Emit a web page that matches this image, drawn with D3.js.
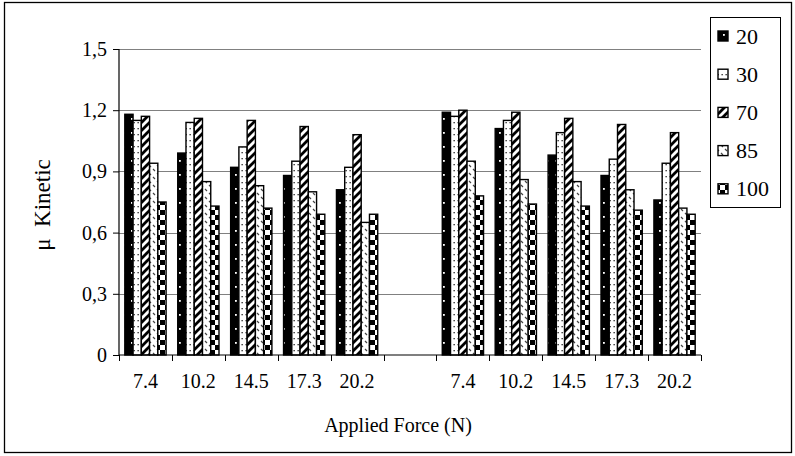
<!DOCTYPE html>
<html><head><meta charset="utf-8">
<script src="https://cdn.jsdelivr.net/npm/d3@7"></script>
<style>body{margin:0;background:#fff}svg{display:block}</style>
</head><body>
<script>
const categories = ["7.4","10.2","14.5","17.3","20.2","","7.4","10.2","14.5","17.3","20.2"];
const seriesNames = ["20","30","70","85","100"];
const s20  = [1.18,0.99,0.92,0.88,0.81,null,1.19,1.11,0.98,0.88,0.76];
const s30  = [1.15,1.14,1.02,0.95,0.92,null,1.17,1.15,1.09,0.96,0.94];
const s70  = [1.17,1.16,1.15,1.12,1.08,null,1.20,1.19,1.16,1.13,1.09];
const s85  = [0.94,0.85,0.83,0.80,0.65,null,0.95,0.86,0.85,0.81,0.72];
const s100 = [0.75,0.73,0.72,0.69,0.69,null,0.78,0.74,0.73,0.71,0.69];
const yTicks = [0,0.3,0.6,0.9,1.2,1.5];
const series = [s20,s30,s70,s85,s100];

const W=795,H=456;
const svg=d3.select("body").append("svg").attr("width",W).attr("height",H);
const defs=svg.append("defs");
function pat(id,w,h,draw){const p=defs.append("pattern").attr("id",id).attr("patternUnits","userSpaceOnUse").attr("width",w).attr("height",h);draw(p);}
pat("p20",8,14,p=>{p.append("rect").attr("width",8).attr("height",14).attr("fill","#000");p.append("rect").attr("x",3).attr("y",6).attr("width",1.8).attr("height",1.8).attr("fill","#fff");});
pat("p30",4,6,p=>{p.append("rect").attr("width",4).attr("height",6).attr("fill","#fff");p.append("rect").attr("x",1.5).attr("y",2).attr("width",1.3).attr("height",1.3).attr("fill","#222");});
pat("p70",8,8,p=>{p.append("rect").attr("width",8).attr("height",8).attr("fill","#fff");p.append("path").attr("d","M-2,10 L10,-2 M-2,2 L2,-2 M6,10 L10,6").attr("stroke","#000").attr("stroke-width",2.8);});
pat("p85",8,8,p=>{p.append("rect").attr("width",8).attr("height",8).attr("fill","#fff");p.append("path").attr("d","M1,1 L3,3 M5,5 L7,7").attr("stroke","#444").attr("stroke-width",1.2);});
pat("p100",10,10,p=>{p.append("rect").attr("width",10).attr("height",10).attr("fill","#fff");p.append("rect").attr("width",5).attr("height",5).attr("fill","#000");p.append("rect").attr("x",5).attr("y",5).attr("width",5).attr("height",5).attr("fill","#000");});
const fills=["url(#p20)","url(#p30)","url(#p70)","url(#p85)","url(#p100)"];

// outer frame
svg.append("rect").attr("x",4.5).attr("y",2.5).attr("width",787).attr("height",450).attr("fill","none").attr("stroke","#000").attr("stroke-width",1.3);

const L=119,R=701,T=49,B=355;
const x0=d3.scaleBand().domain(d3.range(categories.length)).range([L,R]).paddingInner(0.22).paddingOuter(0.11);
const x1=d3.scaleBand().domain(d3.range(seriesNames.length)).range([0,x0.bandwidth()]);
const y=d3.scaleLinear().domain([0,1.5]).range([B,T]);
const font="'Times New Roman','Liberation Serif',serif";

// gridlines
svg.append("g").selectAll("line").data(yTicks.filter(d=>d>0)).join("line")
  .attr("x1",L).attr("x2",R).attr("y1",d=>Math.round(y(d))+0.5).attr("y2",d=>Math.round(y(d))+0.5)
  .attr("stroke","#808080").attr("stroke-width",1);

// bars
const g=svg.append("g");
categories.forEach((c,i)=>{
  series.forEach((s,j)=>{
    const v=s[i]; if(v==null) return;
    g.append("rect").attr("x",x0(i)+x1(j)).attr("y",y(v)).attr("width",x1.bandwidth()).attr("height",y(0)-y(v))
      .attr("fill",fills[j]).attr("stroke","#000").attr("stroke-width",1.4);
  });
});

// y axis
const yAxis=d3.axisLeft(y).tickValues(yTicks).tickSize(6).tickPadding(6).tickFormat(d=>d===0?"0":d3.format(".1f")(d).replace(".",","));
const ya=svg.append("g").attr("transform",`translate(${L},0)`).call(yAxis);
ya.select(".domain").attr("stroke","#000").attr("stroke-width",1.2).attr("d",`M0,${B}V${T}`);
ya.selectAll(".tick line").attr("stroke","#000");
ya.selectAll("text").attr("font-family",font).attr("font-size",20).attr("fill","#000");

// x axis
const xAxis=d3.axisBottom(x0).tickSize(0).tickPadding(19).tickFormat(i=>categories[i]);
const xa=svg.append("g").attr("transform",`translate(0,${B})`).call(xAxis);
xa.select(".domain").attr("stroke","#000").attr("stroke-width",1.2).attr("d",`M${L},0H${R}`);
xa.selectAll("text").attr("font-family",font).attr("font-size",20).attr("fill","#000");
const bounds=d3.range(categories.length+1).map(i=>L+i*(R-L)/categories.length);
xa.selectAll(".bt").data(bounds).join("line").attr("class","bt")
  .attr("x1",d=>Math.round(d)+0.5).attr("x2",d=>Math.round(d)+0.5).attr("y1",0).attr("y2",6).attr("stroke","#000");

// titles
svg.append("text").attr("x",(L+R)/2-12).attr("y",432).attr("text-anchor","middle")
  .attr("font-family",font).attr("font-size",20).text("Applied Force (N)");
svg.append("text").attr("transform","translate(50,205) rotate(-90)").attr("text-anchor","middle")
  .attr("font-family",font).attr("font-size",23).attr("xml:space","preserve").text("μ  Kinetic");

// legend
const lg=svg.append("g");
lg.append("rect").attr("x",710.5).attr("y",17.5).attr("width",70).attr("height",190).attr("fill","#fff").attr("stroke","#000").attr("stroke-width",1);
seriesNames.forEach((n,j)=>{
  const cy=36+j*38.2;
  lg.append("rect").attr("x",718).attr("y",cy-5).attr("width",10).attr("height",10).attr("fill",fills[j]).attr("stroke","#000").attr("stroke-width",1.4);
  lg.append("text").attr("x",736).attr("y",cy+7.5).attr("font-family",font).attr("font-size",22).text(n);
});
</script>
</body></html>
